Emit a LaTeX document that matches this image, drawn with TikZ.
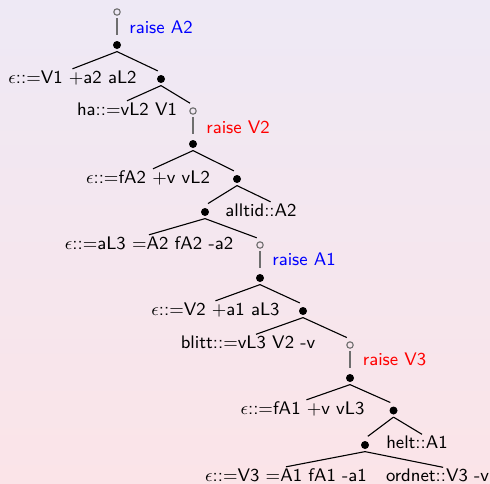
\documentclass[tikz,border=0pt]{standalone}
\usepackage{xcolor}
\definecolor{bgtop}{RGB}{238,233,245}
\definecolor{bgbot}{RGB}{251,228,232}
\definecolor{linkgray}{RGB}{110,110,110}
\begin{document}
\begin{tikzpicture}[x=0.5pt,y=-0.5pt,
  every node/.style={font=\fontsize{9.1}{11}\selectfont\sffamily},
  dot/.style={circle,fill=black,inner sep=0pt,minimum size=4pt,outer sep=1.3pt},
  open/.style={circle,draw=linkgray,line width=0.55pt,inner sep=0pt,minimum size=3.2pt,outer sep=1.4pt},
  leaf/.style={anchor=base,inner sep=0.5pt,text height=6.4pt,text depth=0pt},
  tag/.style={anchor=base west,inner sep=0pt},
  branch/.style={line width=0.55pt},
  todot/.style={shorten >=1.75pt},
  link/.style={draw=linkgray,line width=0.65pt,shorten >=1.75pt}]
  % background
  \shade[top color=bgtop,bottom color=bgbot] (0,0) rectangle (490,483);
  \useasboundingbox (0,0) rectangle (490,483);

  % raise A2
  \node[open] (o1) at (117,12) {};
  \node[dot]  (d1) at (117,45) {};
  \node[tag,text=blue] at (129,33) {raise A2};
  \node[leaf] (t1) at (72.5,83) {$\epsilon$::=V1 +a2 aL2};
  \node[dot]  (d2) at (161,79) {};
  \node[leaf] (t2) at (127,115) {ha::=vL2 V1};

  % raise V2
  \node[open] (o2) at (193,111) {};
  \node[dot]  (d3) at (193,144) {};
  \node[tag,text=red] at (206,133) {raise V2};
  \node[leaf] (t3) at (148,183) {$\epsilon$::=fA2 +v vL2};
  \node[dot]  (d4) at (237,179) {};
  \node[dot]  (d5) at (205,212) {};
  \node[leaf] (t4) at (261,216) {alltid::A2};
  \node[leaf] (t5) at (149,249) {$\epsilon$::=aL3 =A2 fA2 -a2};

  % raise A1
  \node[open] (o3) at (260,245) {};
  \node[dot]  (d6) at (260,278) {};
  \node[tag,text=blue] at (272,265) {raise A1};
  \node[leaf] (t6) at (215.5,315) {$\epsilon$::=V2 +a1 aL3};
  \node[dot]  (d7) at (303,311) {};
  \node[leaf] (t7) at (248,348.5) {blitt::=vL3 V2 -v};

  % raise V3
  \node[open] (o4) at (350,345) {};
  \node[dot]  (d8) at (350,378) {};
  \node[tag,text=red] at (362.5,365) {raise V3};
  \node[leaf] (t8) at (302.5,414) {$\epsilon$::=fA1 +v vL3};
  \node[dot]  (d9) at (393.5,410.5) {};
  \node[dot]  (d10) at (365,445) {};
  \node[leaf] (t9) at (417,448.5) {helt::A1};
  \node[leaf] (t10) at (286,481) {$\epsilon$::=V3 =A1 fA1 -a1};
  \node[leaf] (t11) at (437.5,481.5) {ordnet::V3 -v};

  % movement links
  \draw[link] (o1) -- (d1);
  \draw[link] (o2) -- (d3);
  \draw[link] (o3) -- (d6);
  \draw[link] (o4) -- (d8);

  % branches
  \draw[branch] (d1.south) -- (t1.north);
  \draw[branch,todot] (d1.south) -- (d2.north);
  \draw[branch] (d2.south) -- (t2.north);
  \draw[branch,todot] (d2.south) -- (o2.north);
  \draw[branch] (d3.south) -- ([xshift=2.5pt]t3.north);
  \draw[branch,todot] (d3.south) -- (d4.north);
  \draw[branch,todot] (d4.south) -- (d5.north);
  \draw[branch] (d4.south) -- ([xshift=4.8pt]t4.north);
  \draw[branch] (d5.south) -- (t5.north);
  \draw[branch,todot] (d5.south) -- (o3.north);
  \draw[branch] (d6.south) -- (t6.north);
  \draw[branch,todot] (d6.south) -- (d7.north);
  \draw[branch] (d7.south) -- ([xshift=4pt]t7.north);
  \draw[branch,todot] (d7.south) -- (o4.north);
  \draw[branch] (d8.south) -- ([xshift=2pt]t8.north);
  \draw[branch,todot] (d8.south) -- (d9.north);
  \draw[branch,todot] (d9.south) -- (d10.north);
  \draw[branch] (d9.south) -- ([xshift=2.5pt]t9.north);
  \draw[branch] (d10.south) -- (t10.north);
  \draw[branch] (d10.south) -- ([xshift=2.8pt]t11.north);
\end{tikzpicture}
\end{document}
